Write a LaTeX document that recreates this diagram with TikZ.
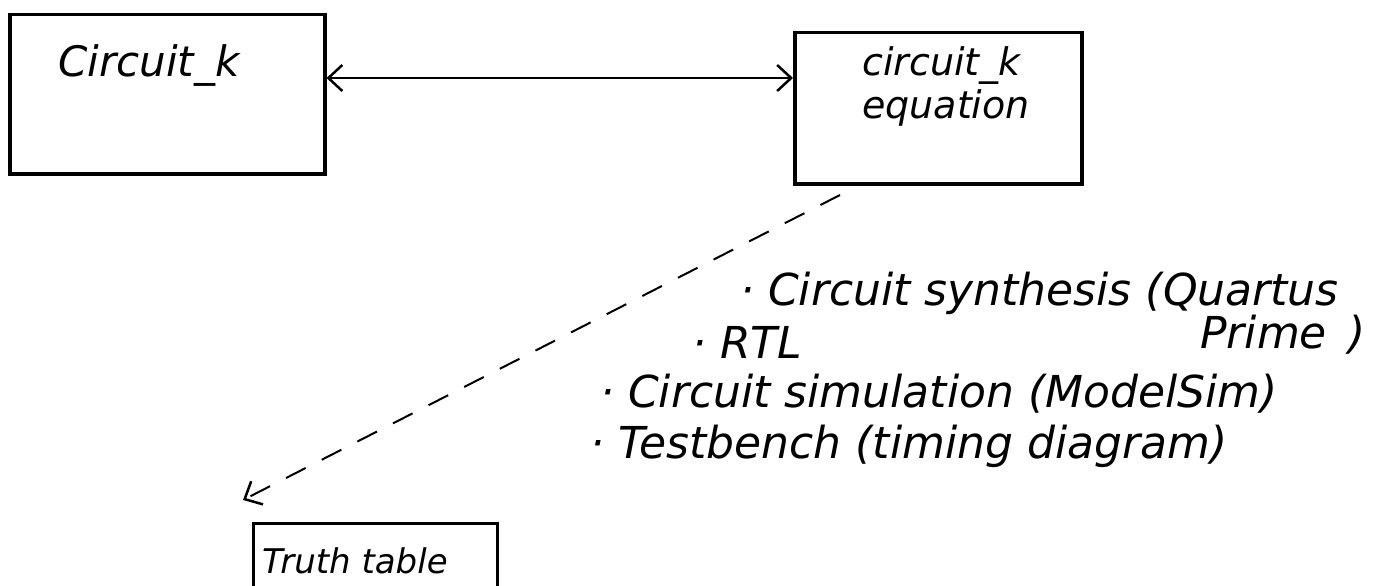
\documentclass[tikz,border=0pt]{standalone}
\usepackage{fontspec}
\setmainfont{DejaVu Sans}
\usetikzlibrary{arrows.meta}
\begin{document}
\begin{tikzpicture}[x=1pt,y=-1pt,
  box/.style={draw,line width=3.5pt,inner sep=0pt},
  hand/.style={font=\itshape\fontsize{44}{50}\selectfont,inner sep=0pt},
  conn/.style={line width=2pt,-{Straight Barb[length=14pt,width=26pt,line width=2.5pt]}}]
\useasboundingbox (0,0) rectangle (1390,586);
\fill[white] (0,0) rectangle (1390,586);
\node[box,minimum width=315pt,minimum height=159pt,anchor=north west] (b1) at (8,13) {};
\node[box,minimum width=287pt,minimum height=151pt,anchor=north west] (b2) at (793,31) {};
\node[hand,anchor=base west,font=\itshape\fontsize{42}{48}\selectfont] (t1) at (58,77) {Circuit\_k};
\node[hand,anchor=base west,font=\itshape\fontsize{38}{44}\selectfont] (t2) at (862,75) {circuit\_k};
\node[hand,anchor=base west,font=\itshape\fontsize{38}{44}\selectfont] (t2b) at (862,118) {equation};
\draw[line width=2pt,{Straight Barb[length=14pt,width=26pt,line width=2.5pt]}-{Straight Barb[length=14pt,width=26pt,line width=2.5pt]}]
  (b1.east|-0,78) -- (b2.west|-0,78);
\node[draw,line width=2.5pt,anchor=north west,minimum width=244pt,minimum height=80pt,inner sep=0pt] (tt) at (252,522) {};
\node[hand,font=\itshape\fontsize{34}{38}\selectfont,anchor=base west] (ttt) at (262,573) {Truth table};
\coordinate (ds) at (840,195);
\draw[conn,dash pattern=on 22pt off 18pt] (ds) -- (243,500);
\node[hand,anchor=base west] (l1) at (740,305) {· Circuit synthesis (Quartus};
\node[hand,anchor=base west] (l1b) at (1200,348) {Prime\enspace)};
\node[hand,anchor=base west] (l2) at (692,358) {· RTL};
\node[hand,anchor=base west] (l3) at (600,407) {· Circuit simulation (ModelSim)};
\node[hand,anchor=base west] (l4) at (590,458) {· Testbench (timing diagram)};
\end{tikzpicture}
\end{document}
